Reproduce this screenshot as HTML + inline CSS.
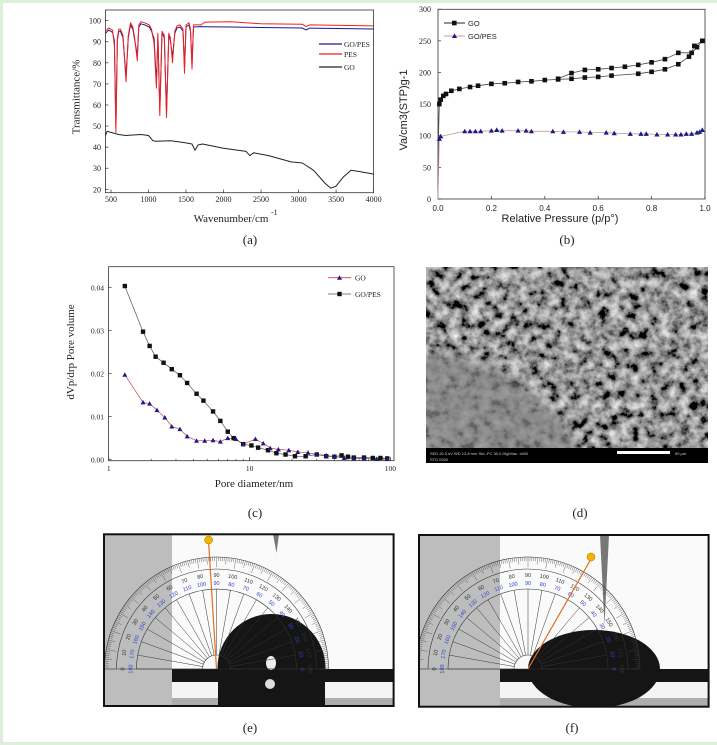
<!DOCTYPE html>
<html><head><meta charset="utf-8"><style>
html,body{margin:0;padding:0;background:#fff}
svg{display:block}
text{font-family:"Liberation Serif",serif;fill:#222}
</style></head><body>
<svg id="s" width="717" height="745" viewBox="0 0 717 745" xmlns="http://www.w3.org/2000/svg">
<defs>
<filter id="sem" x="0" y="0" width="100%" height="100%">
<feTurbulence type="fractalNoise" baseFrequency="0.1" numOctaves="4" seed="7"/>
<feColorMatrix type="matrix" values="1.4 0 0 0 -0.40  1.4 0 0 0 -0.40  1.4 0 0 0 -0.40  0 0 0 0 1"/>
</filter>
<filter id="blur"><feGaussianBlur stdDeviation="6"/></filter>
<clipPath id="ce"><rect x="104" y="534" width="290" height="172"/></clipPath>
<clipPath id="cf"><rect x="419" y="535" width="290" height="172"/></clipPath>
<clipPath id="cs"><rect x="426" y="267" width="282" height="182"/></clipPath>
</defs>
<rect x="0" y="0" width="717" height="745" fill="#fff"/>
<rect x="0" y="0" width="717" height="3" fill="#dcefd8"/>
<rect x="0" y="0" width="3" height="745" fill="#dcefd8"/>
<rect x="0" y="742" width="717" height="3" fill="#dcefd8"/>
<g id="g"></g>
<!-- SEM -->
<rect x="426" y="267" width="282" height="182" fill="#666"/>
<rect x="426" y="267" width="282" height="182" fill="#777" filter="url(#sem)"/>
<g clip-path="url(#cs)">
<path d="M420 355 C460 350 500 365 530 390 C555 410 570 430 580 455 L420 455 Z" fill="#858585" opacity="0.75" filter="url(#blur)"/>
</g>
<rect x="426" y="448" width="282" height="15" fill="#000"/>
<rect x="617" y="451" width="53" height="3" fill="#fff"/>
<text x="430" y="455" font-size="4" style="fill:#ccc;font-family:'Liberation Sans',sans-serif">SED   20.0 kV   WD 13.8 mm   Std.-PC 30.0   HighVac.   x500</text>
<text x="430" y="461" font-size="4" style="fill:#ccc;font-family:'Liberation Sans',sans-serif">STD   0930</text>
<text x="675" y="455" font-size="4" style="fill:#ccc;font-family:'Liberation Sans',sans-serif">50 μm</text>
<text x="580" y="517" font-size="13" text-anchor="middle">(d)</text>
</svg>
<script>
var NS="http://www.w3.org/2000/svg",G=document.getElementById('g');
function el(t,a,p){var e=document.createElementNS(NS,t);for(var k in a)e.setAttribute(k,a[k]);(p||G).appendChild(e);return e;}
function tx(x,y,s,sz,anc,extra){var a={x:x,y:y,'font-size':sz||9};if(anc)a['text-anchor']=anc;for(var k in extra)a[k]=extra[k];var e=el('text',a);e.textContent=s;return e;}
function pl(pts,c,w){el('polyline',{points:pts.map(p=>p[0].toFixed(1)+','+p[1].toFixed(1)).join(' '),fill:'none',stroke:c,'stroke-width':w||1,'stroke-linejoin':'round'});}

/* (a) */
var ax=w=>111+(w-500)*0.07503, ay=v=>189.3-(v-20)*2.108;
el('rect',{x:105.4,y:10,width:268.2,height:182.7,fill:'none',stroke:'#333','stroke-width':0.8});
for(var v=20;v<=100;v+=10){el('line',{x1:105.4,x2:108.5,y1:ay(v),y2:ay(v),stroke:'#333','stroke-width':0.7});tx(101,ay(v)+3,v,8,'end');}
for(var w=500;w<=4000;w+=500){el('line',{x1:ax(w),x2:ax(w),y1:192.7,y2:189.5,stroke:'#333','stroke-width':0.7});tx(ax(w),202,w,8,'middle');}
tx(231,222,'Wavenumber/cm',11,'middle');tx(271,215,'-1',8);
tx(79.5,97,'Transmittance/%',11,'middle',{transform:'rotate(-90 79.5 97)'});
tx(250,244,'(a)',13,'middle');
var pes=[[425,95],[470,96.5],[520,95.5],[545,88],[565,47],[585,92],[605,96],[625,96],[660,93],[700,71],[730,93],[760,99],[790,97],[815,92],[850,81],[870,98],[900,99.5],[950,99],[1010,98],[1040,96],[1075,89],[1105,68],[1125,94],[1150,55],[1180,95],[1210,93],[1240,54],[1270,94],[1290,92],[1320,80],[1350,95],[1380,97.5],[1420,98],[1460,96],[1480,75],[1500,98],[1540,99],[1560,96],[1580,77],[1600,98],[1700,98],[1750,99.3],[2100,99.5],[2500,98.5],[3050,98.3],[3100,97.2],[3150,98],[4000,97.5]];
var blu=pes.map(p=>{var v=p[1];if(p[0]>=1650)v=97.2-(p[0]-1650)*0.0005;else if(v<92)v+=2.5;else v-=1;if(p[0]==3100)v=95.6;return [p[0],v];});
var go=[[425,45.5],[450,47.5],[500,47],[600,46],[700,45.5],[900,46],[1000,45.5],[1060,43],[1100,42.8],[1300,43],[1500,42],[1580,41.5],[1620,38.5],[1660,41],[1720,41.5],[2000,39.5],[2300,38],[2350,36],[2400,37.3],[2600,36],[2900,33],[3050,32.5],[3200,29],[3350,23],[3430,20.5],[3500,21.5],[3600,26],[3700,29],[3800,28.5],[4000,27.2]];
pl(go.map(p=>[ax(p[0]),ay(p[1])]),'#222',1);
pl(blu.map(p=>[ax(p[0]),ay(p[1])]),'#1a1a8a',1);
pl(pes.map(p=>[ax(p[0]),ay(p[1])]),'#ee2222',1);
[['GO/PES','#1a1a8a',44],['PES','#ee2222',54],['GO','#222',67]].forEach(l=>{el('line',{x1:319,x2:342,y1:l[2],y2:l[2],stroke:l[1],'stroke-width':1.2});tx(344,l[2]+3,l[0],7.5);});

/* (b) */
var bx=p=>438+p*267, by=v=>199-v*0.6327;
el('rect',{x:438,y:9.3,width:267,height:189.7,fill:'none',stroke:'#333','stroke-width':0.8});
for(var v=0;v<=300;v+=50){el('line',{x1:438,x2:441,y1:by(v),y2:by(v),stroke:'#333','stroke-width':0.7});tx(431,by(v)+3,v,8,'end');}
for(var i=0;i<=5;i++){var p=i*0.2;el('line',{x1:bx(p),x2:bx(p),y1:199,y2:196,stroke:'#333','stroke-width':0.7});tx(bx(p),211,p.toFixed(1),8,'middle',{style:'font-family:"Liberation Sans",sans-serif'});}
tx(560,222,'Relative Pressure (p/p°)',11,'middle',{style:'font-family:"Liberation Sans",sans-serif'});
tx(567,244,'(b)',13,'middle');
tx(407,110,'Va/cm3(STP)g-1',11,'middle',{transform:'rotate(-90 407 110)',style:'font-family:"Liberation Sans",sans-serif'});
var gad=[[0,10],[0.002,100],[0.005,150],[0.01,157],[0.02,163],[0.03,166],[0.05,171],[0.08,174],[0.12,177],[0.15,179],[0.2,182],[0.25,183],[0.3,185],[0.35,186],[0.4,188],[0.45,189],[0.5,190],[0.55,192],[0.6,193],[0.65,195],[0.75,198],[0.8,201],[0.85,205],[0.9,213],[0.94,225],[0.97,240],[0.99,250]];
var gde=[[0.99,250],[0.96,242],[0.95,231],[0.9,231],[0.85,221],[0.8,216],[0.75,212],[0.7,209],[0.65,207],[0.6,205],[0.55,204],[0.5,199],[0.45,190]];
var gp=[[0,0],[0.005,95],[0.01,99],[0.1,107],[0.12,107],[0.14,107],[0.16,107],[0.2,108],[0.22,109],[0.24,108],[0.3,108],[0.33,108],[0.35,107],[0.43,107],[0.47,106],[0.53,106],[0.57,105],[0.63,105],[0.66,104],[0.72,103],[0.76,103],[0.78,103],[0.82,102],[0.86,102],[0.89,102],[0.91,102],[0.93,103],[0.95,103],[0.97,105],[0.98,106],[0.99,109]];
pl(gad.map(p=>[bx(p[0]),by(p[1])]),'#444',0.8);pl(gde.map(p=>[bx(p[0]),by(p[1])]),'#444',0.8);
pl(gp.map(p=>[bx(p[0]),by(p[1])]),'#c99',0.8);
gad.concat(gde).forEach(p=>{if(p[0]>0.004)el('rect',{x:bx(p[0])-2.3,y:by(p[1])-2.3,width:4.6,height:4.6,fill:'#111'});});
gp.forEach(p=>{if(p[0]>0.004){var x=bx(p[0]),y=by(p[1]);el('polygon',{points:`${x},${y-2.6} ${x-2.6},${y+2} ${x+2.6},${y+2}`,fill:'#1a1a8a'});}});
el('line',{x1:444,x2:465,y1:23,y2:23,stroke:'#222','stroke-width':0.9});el('rect',{x:452,y:20.7,width:4.6,height:4.6,fill:'#111'});tx(468,26,'GO',7.5,null,{style:'font-family:"Liberation Sans",sans-serif'});
el('line',{x1:444,x2:465,y1:36,y2:36,stroke:'#c99','stroke-width':0.9});el('polygon',{points:'454.5,33.4 451.9,38 457.1,38',fill:'#1a1a8a'});tx(468,39,'GO/PES',7.5,null,{style:'font-family:"Liberation Sans",sans-serif'});

/* (c) */
var cx=d=>108.8+Math.log10(d)*140.8, cy=v=>459.7-v*4310;
el('rect',{x:108.6,y:266.7,width:285.4,height:194,fill:'none',stroke:'#333','stroke-width':0.8});
for(var i=0;i<=4;i++){var v=i*0.01;el('line',{x1:108.6,x2:111.6,y1:cy(v),y2:cy(v),stroke:'#333','stroke-width':0.7});tx(104,cy(v)+3,v.toFixed(2),7.5,'end');}
[1,10,100].forEach(d=>{el('line',{x1:cx(d),x2:cx(d),y1:460.7,y2:457,stroke:'#333','stroke-width':0.7});tx(cx(d),471,d,7.5,'middle');});
[2,3,4,5,6,7,8,9,20,30,40,50,60,70,80,90].forEach(d=>el('line',{x1:cx(d),x2:cx(d),y1:460.7,y2:458.7,stroke:'#333','stroke-width':0.6}));
tx(254,487,'Pore diameter/nm',11,'middle');tx(255,517,'(c)',13,'middle');
tx(74,352,'dVp/drp Pore volume',11,'middle',{transform:'rotate(-90 74 352)'});
var cgp=[[1.3,.0403],[1.75,.0297],[1.95,.0264],[2.15,.0239],[2.45,.0225],[2.8,.0210],[3.2,.0196],[3.6,.0178],[4.2,.0153],[4.7,.0137],[5.5,.0112],[6.2,.0090],[7.0,.0065],[7.7,.005],[9,.0036],[10.3,.0033],[11.5,.0028],[13.5,.0022],[15.5,.0015],[18,.0012],[21,.0008],[25,.0008],[30,.0012],[35,.0008],[40,.0007],[45,.0010],[50,.0007],[55,.0005],[65,.0005],[75,.0004],[85,.0004],[95,.0003]];
var cgo=[[1.3,.0197],[1.75,.0133],[1.95,.0130],[2.2,.0115],[2.5,.0098],[2.8,.0077],[3.2,.0071],[3.6,.0054],[4.2,.0044],[4.8,.0044],[5.5,.0045],[6.2,.0042],[7.0,.0050],[8.0,.0048],[9,.0036],[11,.0048],[12.5,.0038],[14,.0027],[16,.0024],[19,.0022],[22,.0018],[26,.0016],[30,.0012],[35,.0010],[40,.0007],[47,.0004],[55,.0003],[65,.0003],[80,.0002],[95,.0002]];
pl(cgp.map(p=>[cx(p[0]),cy(p[1])]),'#555',0.7);pl(cgo.map(p=>[cx(p[0]),cy(p[1])]),'#c44',0.7);
cgp.forEach(p=>el('rect',{x:cx(p[0])-2.2,y:cy(p[1])-2.2,width:4.4,height:4.4,fill:'#111'}));
cgo.forEach(p=>{var x=cx(p[0]),y=cy(p[1]);el('polygon',{points:`${x},${y-2.5} ${x-2.5},${y+2} ${x+2.5},${y+2}`,fill:'#1a1a8a'});});
el('line',{x1:328,x2:351,y1:277.7,y2:277.7,stroke:'#c44','stroke-width':0.8});el('polygon',{points:'339.5,275.2 337,279.7 342,279.7',fill:'#1a1a8a'});tx(355,280.5,'GO',7.5);
el('line',{x1:328,x2:351,y1:294,y2:294,stroke:'#555','stroke-width':0.8});el('rect',{x:337.3,y:291.8,width:4.4,height:4.4,fill:'#111'});tx(355,297,'GO/PES',7.5);

/* (e),(f) */
function photo(L,R,T,B,grayR,cxp,clip,drop,orange,needle,lab,labx){
 var g=el('g',{'clip-path':'url(#'+clip+')'});
 el('rect',{x:L,y:T,width:R-L,height:B-T,fill:'#fafafa'},g);
 el('rect',{x:L,y:T,width:grayR-L,height:B-T,fill:'#bdbdbd'},g);
 el('rect',{x:grayR,y:669,width:R-grayR,height:13,fill:'#151515'},g);
 el('rect',{x:grayR,y:682,width:R-grayR,height:24,fill:'#f4f4f4'},g);
 el('rect',{x:grayR,y:698,width:R-grayR,height:8,fill:'#666',opacity:0.5},g);
 drop(g);
 el('path',{d:needle,fill:'#777'},g);
 var cy0=669;
 var ring=(r)=>el('path',{d:`M${cxp-r} ${cy0} A${r} ${r} 0 0 1 ${cxp+r} ${cy0}`,fill:'none',stroke:'#333','stroke-width':0.6},g);
 ring(112);ring(100);ring(80);ring(14);
 el('line',{x1:cxp-112,x2:cxp+112,y1:cy0,y2:cy0,stroke:'#333','stroke-width':0.6},g);
 for(var a=0;a<=180;a++){var t=a*Math.PI/180,c=Math.cos(t),s=Math.sin(t),l=a%10==0?10:a%5==0?7:4;
  el('line',{x1:cxp-c*112,y1:cy0-s*112,x2:cxp-c*(112-l),y2:cy0-s*(112-l),stroke:'#444','stroke-width':0.4},g);
  if(a%10==0){el('line',{x1:cxp-c*14,y1:cy0-s*14,x2:cxp-c*80,y2:cy0-s*80,stroke:'#333','stroke-width':0.5},g);
   var rr=94,x=cxp-c*rr,y=cy0-s*rr;var e=document.createElementNS(NS,'text');e.setAttribute('x',x);e.setAttribute('y',y+2);e.setAttribute('font-size',5.5);e.setAttribute('text-anchor','middle');e.setAttribute('transform',`rotate(${a-90} ${x} ${y})`);e.setAttribute('style','fill:#333;font-family:"Liberation Sans",sans-serif');e.textContent=a;g.appendChild(e);
   rr=86;x=cxp-c*rr;y=cy0-s*rr;e=document.createElementNS(NS,'text');e.setAttribute('x',x);e.setAttribute('y',y+2);e.setAttribute('font-size',5.5);e.setAttribute('text-anchor','middle');e.setAttribute('transform',`rotate(${a-90} ${x} ${y})`);e.setAttribute('style','fill:#3344cc;font-family:"Liberation Sans",sans-serif');e.textContent=180-a;g.appendChild(e);}
 }
 el('line',{x1:cxp,y1:cy0,x2:orange[0],y2:orange[1],stroke:'#e07020','stroke-width':1.2},g);
 el('circle',{cx:orange[0],cy:orange[1]-2,r:4,fill:'#f4b400',stroke:'#a07000','stroke-width':0.5},g);
 el('rect',{x:L,y:T,width:R-L,height:B-T,fill:'none',stroke:'#111','stroke-width':2});
 tx(labx,732,lab,13,'middle');
}
photo(104,393.6,534.3,706,172,216.5,'ce',function(g){
 el('circle',{cx:271.5,cy:668,r:54,fill:'#151515'},g);
 el('rect',{x:218,y:668,width:107,height:38,fill:'#151515'},g);
 el('ellipse',{cx:271,cy:663,rx:5,ry:7,fill:'#eee'},g);
 el('ellipse',{cx:270,cy:684,rx:5,ry:5,fill:'#ddd'},g);
},[208.6,542],'M273 534 L279 534 L276.5 553 Z','(e)',250);
photo(419,708.6,535,706.7,500,528,'cf',function(g){
 el('ellipse',{cx:594,cy:669,rx:66,ry:39,fill:'#151515'},g);
 el('path',{d:'M528 669 L660 669 Q640 706 594 706 Q548 706 528 669 Z',fill:'#151515'},g);
},[591,559],'M600 535 L609 535 L604.5 625 Z','(f)',572);
</script>
</body></html>
